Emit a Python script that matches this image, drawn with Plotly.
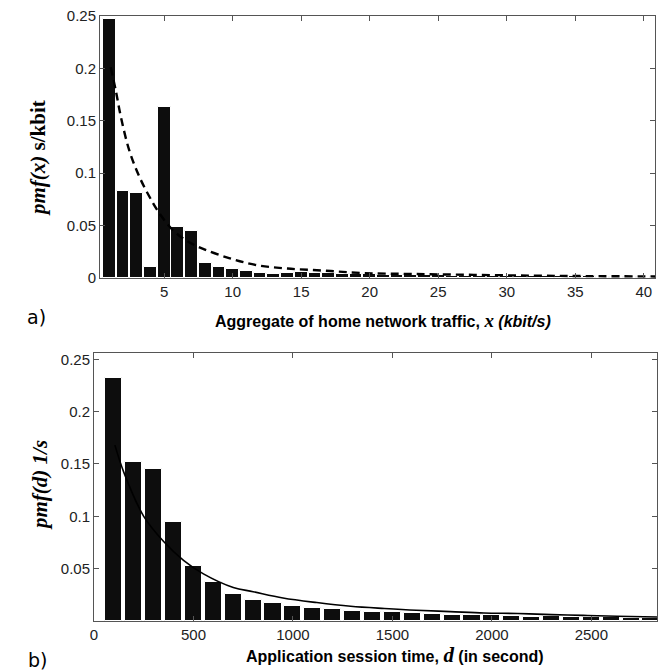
import plotly.graph_objects as go

# ---- panel a) data ----
traffic_x = list(range(1, 41))
traffic_pmf = [0.247, 0.083, 0.081, 0.0105, 0.163, 0.049, 0.045, 0.014, 0.0102, 0.0083,
               0.0064, 0.0051, 0.004, 0.0048, 0.0055, 0.005, 0.0045, 0.0042, 0.004, 0.0035,
               0.0033, 0.003, 0.0028, 0.0027, 0.0025, 0.0023, 0.0022, 0.002, 0.002, 0.0018,
               0.0018, 0.0017, 0.0016, 0.0016, 0.0015, 0.0015, 0.0014, 0.0013, 0.0013, 0.0012]
fit_a_x = [1.1, 1.47, 1.84, 2.45, 3.18, 3.91, 4.64, 5.61, 6.58, 7.8, 9.74, 11.7, 14.0,
           16.7, 19.6, 23.2, 27.6, 32.0, 36.0, 40.9]
fit_a_y = [0.201, 0.179, 0.154, 0.122, 0.097, 0.078, 0.062, 0.046, 0.036, 0.028, 0.019,
           0.0124, 0.009, 0.007, 0.0047, 0.0038, 0.003, 0.0022, 0.0018, 0.0015]
a_xticks = [5, 10, 15, 20, 25, 30, 35, 40]
a_yticks = [0, 0.05, 0.1, 0.15, 0.2, 0.25]
a_yticklabels = ["0", "0.05", "0.1", "0.15", "0.2", "0.25"]

# ---- panel b) data ----
session_d = list(range(100, 2900, 100))
session_pmf = [0.232, 0.152, 0.145, 0.095, 0.053, 0.037, 0.026, 0.0205, 0.0168, 0.014,
               0.012, 0.011, 0.0098, 0.009, 0.0088, 0.0075, 0.0068, 0.0062, 0.0058, 0.0055,
               0.005, 0.0038, 0.0045, 0.0042, 0.004, 0.0036, 0.0032, 0.003]
fit_b_x = [105, 150, 250, 350, 450, 550, 700, 800, 950, 1120, 1290, 1460, 1620, 1790,
           1960, 2130, 2300, 2460, 2630, 2830]
fit_b_y = [0.168, 0.142, 0.100, 0.076, 0.058, 0.045, 0.032, 0.028, 0.022, 0.0176, 0.0141,
           0.0119, 0.0102, 0.009, 0.0077, 0.0071, 0.0061, 0.0054, 0.0045, 0.0038]
b_xticks = [0, 500, 1000, 1500, 2000, 2500]
b_yticks = [0.05, 0.1, 0.15, 0.2, 0.25]
b_yticklabels = ["0.05", "0.1", "0.15", "0.2", "0.25"]

W, H = 658, 672
fig = go.Figure()

fig.add_trace(go.Bar(x=traffic_x, y=traffic_pmf, width=0.93, xaxis="x", yaxis="y",
                     marker=dict(color="#0d0d0d", line=dict(color="white", width=1)),
                     showlegend=False))
fig.add_trace(go.Scatter(x=fit_a_x, y=fit_a_y, mode="lines", xaxis="x", yaxis="y",
                         line=dict(color="black", width=2.4, dash="8px,5px", shape="spline"),
                         showlegend=False))
fig.add_trace(go.Bar(x=session_d, y=session_pmf, width=86, xaxis="x2", yaxis="y2",
                     marker=dict(color="#0d0d0d", line=dict(color="white", width=1)),
                     showlegend=False))
fig.add_trace(go.Scatter(x=fit_b_x, y=fit_b_y, mode="lines", xaxis="x2", yaxis="y2",
                         line=dict(color="black", width=1.6, shape="spline"),
                         showlegend=False))

tickfont = dict(family="Liberation Sans, Arial, sans-serif", size=15, color="#222")
axstyle = dict(showline=True, linecolor="#555", linewidth=1, mirror="ticks",
               ticks="inside", ticklen=5, tickcolor="#555", showgrid=False,
               zeroline=False, tickfont=tickfont, automargin=False)

def px(xp):
    return xp / W

def py(yp):
    return 1 - yp / H

fig.update_layout(
    template="none",
    width=W, height=H,
    margin=dict(l=0, r=0, t=0, b=0, pad=0),
    paper_bgcolor="white", plot_bgcolor="white",
    bargap=0,
    xaxis=dict(domain=[px(100), px(655)], range=[0.32, 40.82], tickvals=a_xticks,
               anchor="y", **axstyle),
    yaxis=dict(domain=[py(278), py(16)], range=[0, 0.25], tickvals=a_yticks,
               ticktext=a_yticklabels, anchor="x", **axstyle),
    xaxis2=dict(domain=[px(94), px(657)], range=[0, 2830], tickvals=b_xticks,
                anchor="y2", **axstyle),
    yaxis2=dict(domain=[py(621), py(353)], range=[0, 0.256], tickvals=b_yticks,
                ticktext=b_yticklabels, anchor="x2", **axstyle),
)

sans_bold = dict(family="Liberation Sans, Arial, sans-serif", size=16, color="black")
serif = dict(family="Liberation Serif, Times New Roman, serif", size=21, color="black")
label_font = dict(family="DejaVu Sans, Verdana, sans-serif", size=19, color="black")

annotations = [
    dict(text="<b>Aggregate of home network traffic, </b>"
              "<span style='font-family:Liberation Serif;font-size:19px'><b><i>x</i></b></span>"
              "<b><i> (kbit/s)</i></b>",
         x=px(383), y=py(320), font=sans_bold),
    dict(text="<b>Application session time, </b>"
              "<span style='font-family:Liberation Serif;font-size:21px'><b><i>d</i></b></span>"
              "<b> (in second)</b>",
         x=px(395), y=py(655), font=sans_bold),
    dict(text="<b><i>pmf(x)</i> s/kbit</b>", x=px(38), y=py(158), textangle=-90, font=serif),
    dict(text="<b><i>pmf(d) 1/s</i></b>", x=px(40), y=py(485), textangle=-90, font=serif),
    dict(text="a)", x=px(25), y=py(317), xanchor="left", font=label_font),
    dict(text="b)", x=px(26), y=py(660), xanchor="left", font=label_font),
]
for a in annotations:
    a.setdefault("xanchor", "center")
    a.update(xref="paper", yref="paper", yanchor="middle", showarrow=False)
fig.update_layout(annotations=annotations)

fig.write_html("out.html", config={"displayModeBar": False},
               post_script="document.body.style.margin='0';document.body.style.overflow='hidden';")
